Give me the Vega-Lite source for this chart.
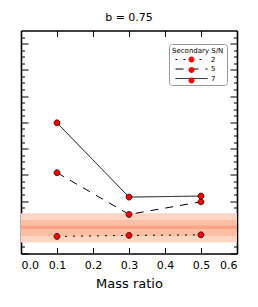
{
  "$schema": "https://vega.github.io/schema/vega-lite/v6.json",
  "autosize": {"type": "none"},
  "padding": {"left": 21, "top": 30.5, "right": 21, "bottom": 53.5},
  "width": 216,
  "height": 223,
  "title": {"text": "b = 0.75", "fontSize": 11, "font": "DejaVu Sans", "fontWeight": "normal", "color": "black", "baseline": "bottom", "offset": -4},
  "datasets": {
    "points": [
      {"mass": 0.1, "value": 0.65, "sn": "2"},
      {"mass": 0.3, "value": 0.69, "sn": "2"},
      {"mass": 0.5, "value": 0.71, "sn": "2"},
      {"mass": 0.1, "value": 3.08, "sn": "5"},
      {"mass": 0.3, "value": 1.49, "sn": "5"},
      {"mass": 0.5, "value": 1.97, "sn": "5"},
      {"mass": 0.1, "value": 4.98, "sn": "7"},
      {"mass": 0.3, "value": 2.15, "sn": "7"},
      {"mass": 0.5, "value": 2.19, "sn": "7"}
    ],
    "bands": [
      {"lo": 0.42, "hi": 1.53, "level": "outer"},
      {"lo": 0.67, "hi": 1.28, "level": "inner"}
    ],
    "center": [{"c": 1.0}]
  },
  "layer": [
    {
      "data": {"name": "bands"},
      "mark": {"type": "rect"},
      "encoding": {
        "y": {"field": "lo", "type": "quantitative", "scale": {"domain": [0, 8.5], "nice": false, "zero": false},
              "axis": {"orient": "left", "values": [0,1,2,3,4,5,6,7,8], "tickSize": -7, "labels": false, "title": null, "domain": true}},
        "y2": {"field": "hi"},
        "fill": {"field": "level", "type": "nominal", "scale": {"domain": ["outer", "inner"], "range": ["#fdd5c3", "#fcbea5"]}, "legend": null}
      }
    },
    {
      "data": {"name": "center"},
      "mark": {"type": "rule", "color": "#f9a585", "strokeWidth": 3.5},
      "encoding": {
        "y": {"field": "c", "type": "quantitative",
              "axis": {"orient": "left", "values": [0.25,0.5,0.75,1.25,1.5,1.75,2.25,2.5,2.75,3.25,3.5,3.75,4.25,4.5,4.75,5.25,5.5,5.75,6.25,6.5,6.75,7.25,7.5,7.75,8.25], "tickSize": -3.5, "labels": false, "title": null, "domain": false}}
      }
    },
    {
      "data": {"name": "points"},
      "mark": {"type": "line", "color": "black", "strokeWidth": 1},
      "encoding": {
        "x": {"field": "mass", "type": "quantitative", "scale": {"domain": [0, 0.6], "nice": false, "zero": false},
              "axis": {"orient": "bottom", "values": [0,0.1,0.2,0.3,0.4,0.5,0.6], "format": ".1f", "tickSize": -6, "labelFontSize": 11, "labelPadding": 12, "title": "Mass ratio", "titleFontSize": 13, "titlePadding": 7}},
        "y": {"field": "value", "type": "quantitative",
              "axis": {"orient": "right", "values": [0,1,2,3,4,5,6,7,8], "tickSize": -7, "labels": false, "title": null, "domain": true}},
        "strokeDash": {"field": "sn", "type": "nominal", "scale": {"domain": ["2", "5", "7"], "range": [[2, 6], [8, 7], [1, 0]]},
          "legend": {"title": "Secondary S/N", "orient": "none", "legendX": 148, "legendY": 13.5, "zindex": 1,
                     "symbolType": "M-4,0H4", "symbolSize": 64, "symbolStrokeColor": "black", "symbolStrokeWidth": 1, "symbolFillColor": "transparent",
                     "symbolOffset": 15, "labelOffset": 15, "labelFontSize": 7, "titleFontSize": 7, "titleFontWeight": "normal", "titlePadding": 1, "rowPadding": 1.5, "padding": 3,
                     "strokeColor": "#999999", "fillColor": "white", "cornerRadius": 3, "labelFont": "DejaVu Sans", "titleFont": "DejaVu Sans", "labelColor": "black", "titleColor": "black",
                     "encode": {"symbols": {"update": {"strokeDash": {"signal": "datum.value === '5' ? [12, 8] : datum.value === '2' ? [2, 6] : [1, 0]"}}}}}}
      }
    },
    {
      "data": {"name": "points"},
      "mark": {"type": "point", "filled": true, "fill": "#ff0000", "stroke": "black", "strokeWidth": 0.7, "opacity": 1, "size": 64},
      "encoding": {
        "x": {"field": "mass", "type": "quantitative",
              "axis": {"orient": "top", "values": [0,0.1,0.2,0.3,0.4,0.5,0.6], "tickSize": -6, "labels": false, "title": null, "domain": true}},
        "y": {"field": "value", "type": "quantitative",
              "axis": {"orient": "right", "values": [0.25,0.5,0.75,1.25,1.5,1.75,2.25,2.5,2.75,3.25,3.5,3.75,4.25,4.5,4.75,5.25,5.5,5.75,6.25,6.5,6.75,7.25,7.5,7.75,8.25], "tickSize": -3.5, "labels": false, "title": null, "domain": false}},
        "shape": {"field": "sn", "type": "nominal", "scale": {"range": ["M-0.75,0A0.75,0.75 0 1,0 0.75,0A0.75,0.75 0 1,0 -0.75,0Z"]},
          "legend": {"title": " ", "orient": "none", "legendX": 148, "legendY": 13.5, "zindex": 2,
                     "symbolSize": 64, "symbolStrokeColor": "black", "symbolStrokeWidth": 0.7, "symbolFillColor": "#ff0000",
                     "symbolOffset": 15, "labelOffset": 15, "labelFontSize": 7, "titleFontSize": 7, "titleFontWeight": "normal", "titlePadding": 1, "rowPadding": 1.5, "padding": 3,
                     "labelExpr": "''",
                     "strokeColor": "transparent", "fillColor": "transparent", "labelFont": "DejaVu Sans", "titleFont": "DejaVu Sans", "labelColor": "transparent", "titleColor": "transparent"}}
      }
    }
  ],
  "resolve": {"axis": {"x": "independent", "y": "independent"}},
  "config": {
    "font": "DejaVu Sans",
    "view": {"stroke": null},
    "axis": {"domainColor": "black", "domainWidth": 1.6, "tickColor": "black", "tickWidth": 1, "grid": false, "labelColor": "black", "titleColor": "black", "titleFontWeight": "normal", "labelFont": "DejaVu Sans", "titleFont": "DejaVu Sans"}
  }
}
